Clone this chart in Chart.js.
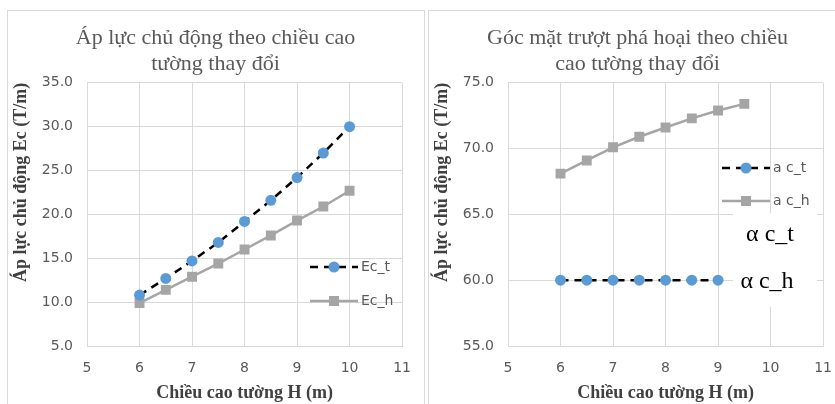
<!DOCTYPE html>
<html>
<head>
<meta charset="utf-8">
<script src="https://cdn.jsdelivr.net/npm/chart.js@4/dist/chart.umd.min.js"></script>
<style>
  body { margin: 0; background: #fff; width: 835px; height: 404px; overflow: hidden; position: relative; }
  .box { position: absolute; top: 10px; width: 418px; height: 400px; }
  .frame { position: absolute; top: 10px; width: 418px; height: 400px; border: 1px solid #d9d9d9; box-sizing: border-box; pointer-events: none; }
</style>
</head>
<body>
<div class="box" style="left:7px"><canvas id="ecChart"></canvas></div>
<div class="frame" style="left:7px"></div>
<div class="box" style="left:428px"><canvas id="alphaChart"></canvas></div>
<div class="frame" style="left:428px"></div>
<script>
// chieu cao tuong H (m)
const hEc = [6, 6.5, 7, 7.5, 8, 8.5, 9, 9.5, 10];
const ecT = [10.8, 12.7, 14.7, 16.8, 19.2, 21.6, 24.2, 27.0, 30.0];
const ecH = [9.9, 11.4, 12.9, 14.4, 16.0, 17.6, 19.3, 20.9, 22.7];

const hAlphaT = [6, 6.5, 7, 7.5, 8, 8.5, 9];
const alphaT = [60, 60, 60, 60, 60, 60, 60];
const hAlphaH = [6, 6.5, 7, 7.5, 8, 8.5, 9, 9.5];
const alphaH = [68.1, 69.1, 70.1, 70.9, 71.6, 72.3, 72.9, 73.4];

const xTicks = [5, 6, 7, 8, 9, 10, 11];
const yTicksEc = [5, 10, 15, 20, 25, 30, 35];
const yTicksAlpha = [55, 60, 65, 70, 75];

const BLUE = "#5b9bd5";
const GRAY = "#a5a5a5";
const GRID = "#d9d9d9";
const TXT = "#595959";

function points(xs, ys) {
  return xs.map((x, i) => ({ x: x, y: ys[i] }));
}

function dashedSeries(label, xs, ys) {
  return {
    label: label,
    data: points(xs, ys),
    borderColor: "#000",
    borderWidth: 2.5,
    borderDash: [8, 6],
    pointStyle: "circle",
    pointRadius: 5.5,
    pointBackgroundColor: BLUE,
    pointBorderColor: BLUE,
    pointBorderWidth: 0,
  };
}

function solidSeries(label, xs, ys) {
  return {
    label: label,
    data: points(xs, ys),
    borderColor: GRAY,
    borderWidth: 2.5,
    pointStyle: "rect",
    pointRadius: 7,
    pointBackgroundColor: GRAY,
    pointBorderColor: GRAY,
    pointBorderWidth: 0,
  };
}

// Excel centres the title on the whole chart box, not the padded one
function titleShift(dx) {
  return {
    id: "titleShift",
    afterLayout(chart) {
      chart.titleBlock.left += dx;
      chart.titleBlock.right += dx;
    },
  };
}

// legend drawn inside plot area, like the Excel one
function legendPlugin(x0, rows) {
  return {
    id: "insideLegend",
    afterDraw(chart) {
      const ctx = chart.ctx;
      chart.data.datasets.forEach((ds, i) => {
        const y = rows[i];
        ctx.save();
        ctx.strokeStyle = ds.borderColor;
        ctx.lineWidth = ds.borderWidth;
        ctx.setLineDash(ds.borderDash || []);
        ctx.beginPath();
        ctx.moveTo(x0, y);
        ctx.lineTo(x0 + 48, y);
        ctx.stroke();
        ctx.setLineDash([]);
        ctx.fillStyle = ds.pointBackgroundColor;
        if (ds.pointStyle === "rect") {
          ctx.fillRect(x0 + 24 - 5, y - 5, 10, 10);
        } else {
          ctx.beginPath();
          ctx.arc(x0 + 24, y, 5.5, 0, Math.PI * 2);
          ctx.fill();
        }
        ctx.fillStyle = TXT;
        ctx.font = "14px 'DejaVu Sans'";
        ctx.textBaseline = "middle";
        ctx.fillText(ds.label, x0 + 51, y);
        ctx.restore();
      });
    },
  };
}

const notePlugin = {
  id: "notes",
  afterDraw(chart) {
    const ctx = chart.ctx;
    ctx.save();
    ctx.fillStyle = "#fff";
    ctx.fillRect(305, 203, 84, 94);
    ctx.fillStyle = "#000";
    ctx.font = "24px 'Liberation Serif'";
    ctx.textAlign = "center";
    ctx.textBaseline = "middle";
    ctx.fillText("\u03b1 c_t", 342, 225);
    ctx.fillText("\u03b1 c_h", 339, 272);
    ctx.restore();
  },
};

function makeOptions(title, yMin, yMax, yTicks) {
  return {
    responsive: true,
    maintainAspectRatio: false,
    animation: false,
    layout: { padding: { left: 0, right: 19, top: 0, bottom: 0 } },
    plugins: {
      legend: { display: false },
      tooltip: { enabled: false },
      title: {
        display: true,
        text: title,
        color: TXT,
        font: { family: "'Liberation Serif'", size: 22, weight: "normal", lineHeight: 1.2 },
        padding: { top: 15, bottom: 5 },
      },
    },
    scales: {
      x: {
        type: "linear",
        min: 5,
        max: 11,
        afterBuildTicks: (s) => { s.ticks = xTicks.map((v) => ({ value: v })); },
        afterFit: (s) => { s.height = 64; },
        grid: { color: GRID, lineWidth: 1, drawTicks: false },
        border: { color: GRID },
        ticks: { color: TXT, font: { family: "'DejaVu Sans'", size: 14 }, padding: 14 },
        title: {
          display: true,
          text: "Chiều cao tường H (m)",
          color: "#404040",
          font: { family: "'Liberation Serif'", size: 18, weight: "bold", lineHeight: 1.2 },
          padding: { top: 0, bottom: 6 },
        },
      },
      y: {
        type: "linear",
        min: yMin,
        max: yMax,
        afterBuildTicks: (s) => { s.ticks = yTicks.map((v) => ({ value: v })); },
        afterFit: (s) => { s.width = 80; },
        grid: { color: GRID, lineWidth: 1, drawTicks: false },
        border: { color: GRID },
        ticks: {
          color: TXT,
          font: { family: "'DejaVu Sans'", size: 14 },
          padding: 14,
          callback: (v) => Number(v).toFixed(1),
        },
        title: {
          display: true,
          text: "Áp lực chủ động Ec (T/m)",
          align: "end",
          color: "#404040",
          font: { family: "'Liberation Serif'", size: 18, weight: "bold", lineHeight: 1.2 },
          padding: { top: 4, bottom: 0 },
        },
      },
    },
  };
}

new Chart(document.getElementById("ecChart"), {
  type: "line",
  data: {
    datasets: [dashedSeries("Ec_t", hEc, ecT), solidSeries("Ec_h", hEc, ecH)],
  },
  options: makeOptions(["Áp lực chủ động theo chiều cao", "tường thay đổi"], 5, 35, yTicksEc),
  plugins: [titleShift(9), legendPlugin(303, [257, 291])],
});

new Chart(document.getElementById("alphaChart"), {
  type: "line",
  data: {
    datasets: [dashedSeries("a c_t", hAlphaT, alphaT), solidSeries("a c_h", hAlphaH, alphaH)],
  },
  options: makeOptions(["Góc mặt trượt phá hoại theo chiều", "cao tường thay đổi"], 55, 75, yTicksAlpha),
  plugins: [titleShift(10), notePlugin, legendPlugin(294, [158, 191])],
});
</script>
</body>
</html>
